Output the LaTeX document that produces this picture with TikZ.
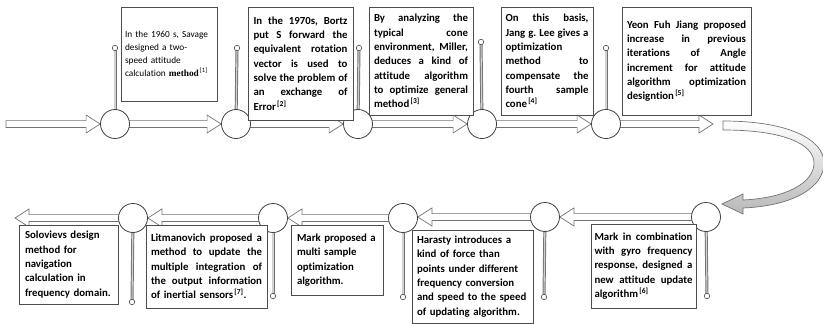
\documentclass[tikz,border=0pt]{standalone}
\usepackage{fontspec}
\setmainfont{Carlito}[Ligatures=NoCommon]
\newfontfamily\methodfont{Liberation Serif}
\usetikzlibrary{calc}
\pgfdeclarelayer{back}
\pgfdeclarelayer{mid}
\pgfdeclarelayer{front}
\pgfsetlayers{back,mid,main,front}
\frenchspacing

% width of a justified card line, set by the jcard style
\newlength\jlw
% one stretched (justified) line of a text card
\newcommand\jl[1]{\leavevmode\hbox to\jlw{\spaceskip=0.22em plus 1fil\relax #1}\\}
\newcommand\refmark[1]{\textsuperscript{\,[#1]}}

% block arrow sizes
\def\arrsh{3.4pt}% half the shaft
\def\arrhh{9pt}%   half the head
\def\arrhl{14pt}%  head length

% block arrow from #1 to the tip #2; #3 = 1 points right, -1 points left
\newcommand\blockarrow[3]{%
  \draw[barrow] let \p1=(#1), \p2=(#2) in
    (\x1,\y1-\arrsh) -- ({\x2-(#3)*\arrhl},\y1-\arrsh) -- ({\x2-(#3)*\arrhl},\y1-\arrhh)
    -- (\x2,\y1) -- ({\x2-(#3)*\arrhl},\y1+\arrhh) -- ({\x2-(#3)*\arrhl},\y1+\arrsh)
    -- (\x1,\y1+\arrsh) -- cycle;}

\begin{document}
\begin{tikzpicture}[x=1pt,y=-1pt,
  hub/.style={circle,draw=black!75,fill=white,line width=0.8pt,minimum size=29pt,inner sep=0pt},
  pinhead/.style={circle,draw=black!70,fill=white,line width=0.6pt,minimum size=5.5pt,inner sep=0pt},
  stem/.style={draw=black!55,line width=3pt},
  stemcore/.style={draw=black!18,line width=1.1pt},
  barrow/.style={draw=black!55,fill=white,line width=0.7pt,line join=miter},
  curvearrow/.style={draw=black!55,line width=0.7pt,top color=white,bottom color=black!28},
  card/.style={draw=black!70,fill=white,line width=0.7pt,inner xsep=0pt,inner ysep=0pt,
    align=left,font=\bfseries\fontsize{10.8}{14.3}\selectfont},
  jcard/.style={card,text width=#1,execute at begin node={\setlength{\jlw}{#1}}},
]
\useasboundingbox (0,0) rectangle (823,324);

% ---------- hubs ----------
\node[hub] (t1) at (115,124) {};
\node[hub] (t2) at (236,124) {};
\node[hub] (t3) at (358,124) {};
\node[hub] (t4) at (482,124) {};
\node[hub] (t5) at (606,124) {};
\node[hub] (u1) at (133,218) {};
\node[hub] (u2) at (273,218) {};
\node[hub] (u3) at (403,218) {};
\node[hub] (u4) at (545,217) {};
\node[hub] (u5) at (706,217) {};
\coordinate (s0) at (6,124);
\coordinate (e1) at (713,124);
\coordinate (e2) at (15,218);

% ---------- pins ----------
\node[pinhead] (p1) at (115,48) {};
\node[pinhead] (p2) at (237,48) {};
\node[pinhead] (p3) at (359,48) {};
\node[pinhead] (p4) at (481,42) {};
\node[pinhead] (p5) at (606,48) {};
\node[pinhead] (q1) at (132,302) {};
\node[pinhead] (q2) at (273,296) {};
\node[pinhead] (q3) at (403,297) {};
\node[pinhead] (q4) at (544,297) {};
\node[pinhead] (q5) at (707,296) {};

\begin{pgfonlayer}{back}
  \fill[white] (0,0) rectangle (823,324);
  \blockarrow{s0}{t1.west}{1}
  \blockarrow{t1.center}{t2.west}{1}
  \blockarrow{t2.center}{t3.west}{1}
  \blockarrow{t3.center}{t4.west}{1}
  \blockarrow{t4.center}{t5.west}{1}
  \blockarrow{t5.center}{e1}{1}
  \blockarrow{u5.center}{u4.east}{-1}
  \blockarrow{u4.center}{u3.east}{-1}
  \blockarrow{u3.center}{u2.east}{-1}
  \blockarrow{u2.center}{u1.east}{-1}
  \blockarrow{u1.center}{e2}{-1}
  % the turn from the upper row to the lower row
  \draw[curvearrow] (723,121) .. controls (790,121) and (824,140) .. (824,163)
    .. controls (824,188) and (792,206) .. (743,208) -- (743,214) -- (722,204)
    -- (743,194) -- (743,200) .. controls (786,198) and (814,183) .. (814,163)
    .. controls (814,145) and (786,130) .. (723,130) -- cycle;
\end{pgfonlayer}

\begin{pgfonlayer}{mid}
  \foreach \a/\b in {t1/p1,t2/p2,t3/p3,t4/p4,t5/p5,u1/q1,u2/q2,u3/q3,u4/q4,u5/q5}{
    \draw[stem] (\a.center) -- (\b.center);
    \draw[stemcore] (\a.center) -- (\b.center);
  }
\end{pgfonlayer}

\begin{pgfonlayer}{front}
% ---------- text cards, upper row ----------
\node[card,minimum width=96pt,minimum height=94pt,text width=88pt,
      font=\fontsize{9.3}{13}\selectfont] (c1) at (169,54)
  {In the 1960 s, Savage\\ designed a two-\\ speed attitude\\
   calculation {\methodfont\bfseries method}\refmark{1}};

\node[jcard=94pt,minimum width=105pt,minimum height=113pt] (c2) at (300.5,63.5)
  {\jl{In the 1970s, Bortz}\jl{put S forward the}\jl{equivalent rotation}%
   \jl{vector is used to}\jl{solve the problem of}\jl{an exchange of}Error\refmark{2}};

\node[jcard=94pt,minimum width=104pt,minimum height=108pt] (c3) at (421,61)
  {\jl{By analyzing the}\jl{typical cone}\jl{environment, Miller,}%
   \jl{deduces a kind of}\jl{attitude algorithm}\jl{to optimize general}method\refmark{3}};

\node[jcard=83pt,minimum width=92pt,minimum height=108pt] (c4) at (547,61)
  {\jl{On this basis,}\jl{Jang g. Lee gives a}optimization\\ \jl{method to}%
   \jl{compensate the}\jl{fourth sample}cone\refmark{4}};

\node[jcard=119pt,minimum width=129pt,minimum height=108pt] (c5) at (686.5,61)
  {\jl{Yeon Fuh Jiang proposed}\jl{increase in previous}\jl{iterations of Angle}%
   \jl{increment for attitude}\jl{algorithm optimization}designtion\refmark{5}};

% ---------- text cards, lower row ----------
\node[card,minimum width=99pt,minimum height=79pt,text width=87pt] (d1) at (68.5,264.5)
  {Solovievs design\\ method for\\ navigation\\ calculation in\\ frequency domain.};

\node[jcard=111pt,minimum width=121pt,minimum height=83pt] (d2) at (206.5,266.5)
  {\jl{Litmanovich proposed a}\jl{method to update the}\jl{multiple integration of}%
   \jl{the output information}of inertial sensors\refmark{7}.};

\node[card,minimum width=92pt,minimum height=70pt,text width=80pt] (d3) at (337,260)
  {Mark proposed a\\ multi sample\\ optimization\\ algorithm.};

\node[card,minimum width=121pt,minimum height=93pt,text width=111pt] (d4) at (472.5,276.5)
  {Harasty introduces a\\ kind of force than\\ points under different\\
   frequency conversion\\ and speed to the speed\\ of updating algorithm.};

\node[jcard=98pt,minimum width=105pt,minimum height=84pt] (d5) at (643.5,266)
  {\jl{Mark in combination}\jl{with gyro frequency}\jl{response, designed a}%
   \jl{new attitude update}algorithm\refmark{6}};
\end{pgfonlayer}
\end{tikzpicture}
\end{document}
